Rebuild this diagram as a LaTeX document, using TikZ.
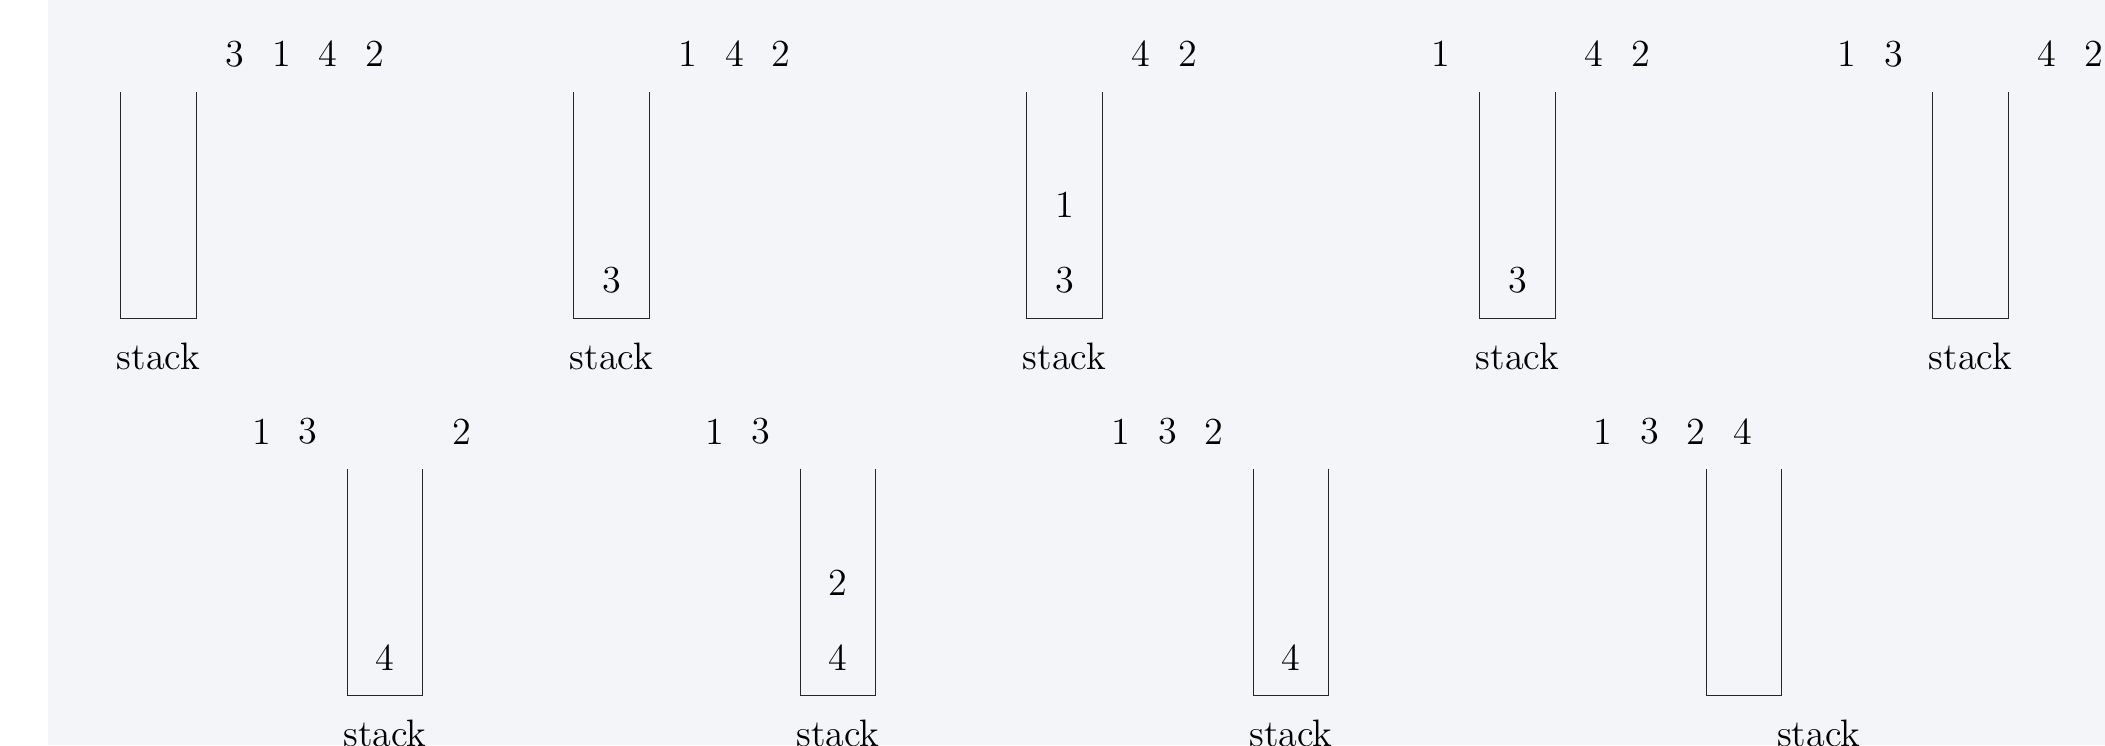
\documentclass[tikz,border=0pt]{standalone}
\definecolor{bgpanel}{RGB}{244,245,249}
\tikzset{
  num/.style={font=\Large, inner sep=0pt},
  lbl/.style={font=\Large},
  stackbox/.style={draw=black!85, line width=0.4pt},
}
\begin{document}
\begin{tikzpicture}
\useasboundingbox (-1.599,-5.652) rectangle (26.282,4.216);
\fill[white] (-1.599,-5.652) rectangle (-0.963,4.216);
\fill[bgpanel] (-0.963,-5.652) rectangle (26.282,4.216);

% ---------- panel 1 ----------
\begin{scope}[shift={(0,0)}]
  \draw[stackbox] (0,3) -- (0,0) -- (1,0) -- (1,3);
  \node[lbl] (s1) at (0.5,-0.5) {stack};
  \node[num] (a1i1) at (1.515,3.5) {3};
  \node[num] (a1i2) at (2.131,3.5) {1};
  \node[num] (a1i3) at (2.747,3.5) {4};
  \node[num] (a1i4) at (3.363,3.5) {2};
\end{scope}

% ---------- panel 2 ----------
\begin{scope}[shift={(6,0)}]
  \draw[stackbox] (0,3) -- (0,0) -- (1,0) -- (1,3);
  \node[lbl] (s2) at (0.5,-0.5) {stack};
  \node[num] (a2i1) at (1.515,3.5) {1};
  \node[num] (a2i2) at (2.131,3.5) {4};
  \node[num] (a2i3) at (2.747,3.5) {2};
  \node[num] (a2s1) at (0.5,0.5) {3};
\end{scope}

% ---------- panel 3 ----------
\begin{scope}[shift={(12,0)}]
  \draw[stackbox] (0,3) -- (0,0) -- (1,0) -- (1,3);
  \node[lbl] (s3) at (0.5,-0.5) {stack};
  \node[num] (a3i1) at (1.515,3.5) {4};
  \node[num] (a3i2) at (2.131,3.5) {2};
  \node[num] (a3s1) at (0.5,0.5) {3};
  \node[num] (a3s2) at (0.5,1.5) {1};
\end{scope}

% ---------- panel 4 ----------
\begin{scope}[shift={(18,0)}]
  \draw[stackbox] (0,3) -- (0,0) -- (1,0) -- (1,3);
  \node[lbl] (s4) at (0.5,-0.5) {stack};
  \node[num] (a4o1) at (-0.52,3.5) {1};
  \node[num] (a4i1) at (1.515,3.5) {4};
  \node[num] (a4i2) at (2.131,3.5) {2};
  \node[num] (a4s1) at (0.5,0.5) {3};
\end{scope}

% ---------- panel 5 ----------
\begin{scope}[shift={(24,0)}]
  \draw[stackbox] (0,3) -- (0,0) -- (1,0) -- (1,3);
  \node[lbl] (s5) at (0.5,-0.5) {stack};
  \node[num] (a5o1) at (-1.136,3.5) {1};
  \node[num] (a5o2) at (-0.52,3.5) {3};
  \node[num] (a5i1) at (1.515,3.5) {4};
  \node[num] (a5i2) at (2.131,3.5) {2};
\end{scope}

% ---------- panel 6 ----------
\begin{scope}[shift={(3,-5)}]
  \draw[stackbox] (0,3) -- (0,0) -- (1,0) -- (1,3);
  \node[lbl] (s6) at (0.5,-0.5) {stack};
  \node[num] (a6o1) at (-1.136,3.5) {1};
  \node[num] (a6o2) at (-0.52,3.5) {3};
  \node[num] (a6i1) at (1.515,3.5) {2};
  \node[num] (a6s1) at (0.5,0.5) {4};
\end{scope}

% ---------- panel 7 ----------
\begin{scope}[shift={(9,-5)}]
  \draw[stackbox] (0,3) -- (0,0) -- (1,0) -- (1,3);
  \node[lbl] (s7) at (0.5,-0.5) {stack};
  \node[num] (a7o1) at (-1.136,3.5) {1};
  \node[num] (a7o2) at (-0.52,3.5) {3};
  \node[num] (a7s1) at (0.5,0.5) {4};
  \node[num] (a7s2) at (0.5,1.5) {2};
\end{scope}

% ---------- panel 8 ----------
\begin{scope}[shift={(15,-5)}]
  \draw[stackbox] (0,3) -- (0,0) -- (1,0) -- (1,3);
  \node[lbl] (s8) at (0.5,-0.5) {stack};
  \node[num] (a8o1) at (-1.752,3.5) {1};
  \node[num] (a8o2) at (-1.136,3.5) {3};
  \node[num] (a8o3) at (-0.52,3.5) {2};
  \node[num] (a8s1) at (0.5,0.5) {4};
\end{scope}

% ---------- panel 9 ----------
\begin{scope}[shift={(21,-5)}]
  \draw[stackbox] (0,3) -- (0,0) -- (1,0) -- (1,3);
  \node[lbl] (s9) at (1.49,-0.5) {stack};
  \node[num] (a9o1) at (-1.368,3.5) {1};
  \node[num] (a9o2) at (-0.752,3.5) {3};
  \node[num] (a9o3) at (-0.136,3.5) {2};
  \node[num] (a9o4) at (0.48,3.5) {4};
\end{scope}
\end{tikzpicture}
\end{document}
